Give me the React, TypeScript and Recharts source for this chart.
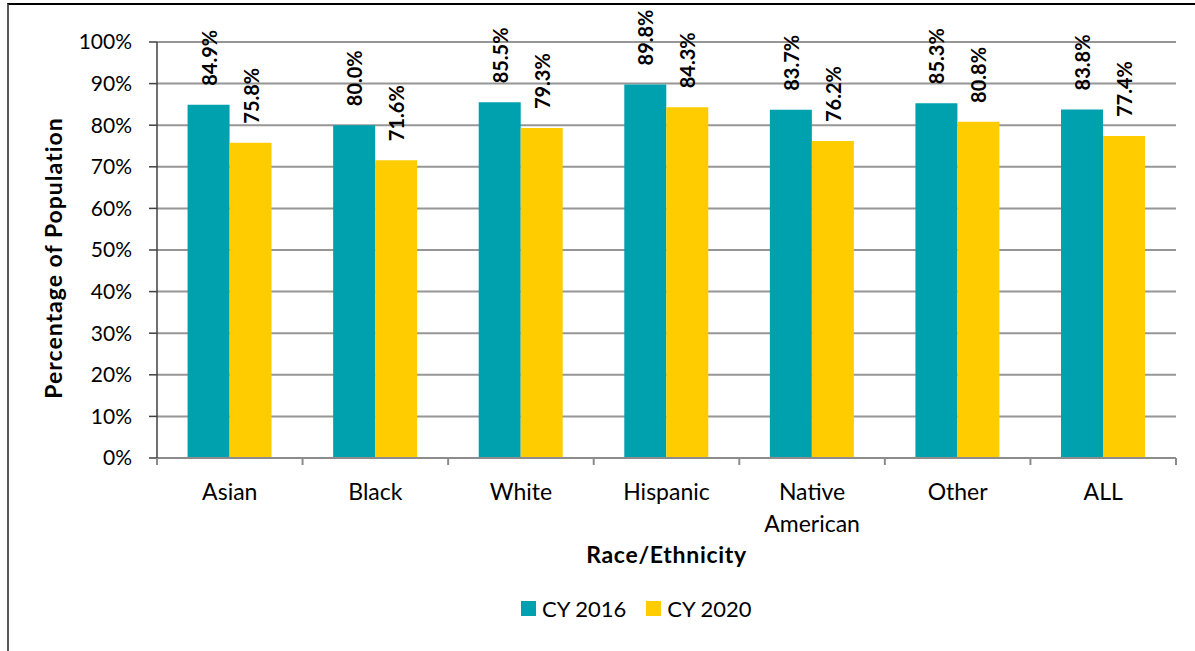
import {
  BarChart,
  Bar,
  XAxis,
  YAxis,
  CartesianGrid,
  Legend,
  LabelList,
  Label,
} from "recharts";

const categories = ["Asian", "Black", "White", "Hispanic", "Native American", "Other", "ALL"];
const cy2016 = [84.9, 80.0, 85.5, 89.8, 83.7, 85.3, 83.8];
const cy2020 = [75.8, 71.6, 79.3, 84.3, 76.2, 80.8, 77.4];
const yTicks = [0, 10, 20, 30, 40, 50, 60, 70, 80, 90, 100];
const seriesNames = ["CY 2016", "CY 2020"];
const seriesColors = ["#00A1AF", "#FFCC00"];

const data = categories.map((name, i) => ({
  name,
  a: cy2016[i],
  b: cy2020[i],
}));

const FONT = "Lato, 'Open Sans', sans-serif";

function renderValueLabel(props: any) {
  const { x, y, width, value } = props;
  const cx = Number(x) + Number(width) / 2;
  const cy = Number(y) - 19;
  return (
    <text
      x={cx}
      y={cy}
      transform={`rotate(-90, ${cx}, ${cy})`}
      textAnchor="start"
      dominantBaseline="central"
      fontFamily={FONT}
      fontWeight={700}
      fontSize={20}
      fill="#000"
    >
      {`${Number(value).toFixed(1)}%`}
    </text>
  );
}

function CategoryTick(props: any) {
  const { x, y, payload, index } = props;
  const half = payload && payload.offset ? payload.offset : 72.8;
  const lines = String(payload.value).length > 10 ? String(payload.value).split(" ") : [payload.value];
  return (
    <g>
      <line x1={x - half} y1={y} x2={x - half} y2={y + 7} stroke="#8c8c8c" strokeWidth={2} />
      {index === categories.length - 1 && (
        <line x1={x + half} y1={y} x2={x + half} y2={y + 7} stroke="#8c8c8c" strokeWidth={2} />
      )}
      {lines.map((l: string, i: number) => (
        <text
          key={i}
          x={x}
          y={y + 42 + i * 32}
          textAnchor="middle"
          fontFamily={FONT}
          fontSize={23}
          fill="#000"
        >
          {l}
        </text>
      ))}
    </g>
  );
}

function renderLegend() {
  return (
    <div style={{ display: "flex", alignItems: "center", fontFamily: FONT, fontSize: 22, color: "#000" }}>
      {seriesNames.map((n, i) => (
        <div key={n} style={{ display: "flex", alignItems: "center", marginRight: 20 }}>
          <span style={{ width: 15, height: 15, background: seriesColors[i], display: "inline-block", marginRight: 6 }} />
          <span>{n}</span>
        </div>
      ))}
    </div>
  );
}

export default function App() {
  return (
    <div
      style={{
        position: "absolute",
        left: 7,
        top: 3,
        width: 1188,
        height: 648,
        boxSizing: "border-box",
        borderTop: "2px solid #000",
        borderLeft: "2px solid #595959",
        background: "#fff",
      }}
    >
      <BarChart
        width={1186}
        height={646}
        data={data}
        margin={{ top: 37, right: 19, left: 0, bottom: 73 }}
        barCategoryGap="21%"
        barGap={0}
      >
        <CartesianGrid vertical={false} stroke="#969696" strokeWidth={2} />
        <XAxis
          dataKey="name"
          height={120}
          interval={0}
          stroke="#8c8c8c"
          strokeWidth={2}
          tickLine={false}
          tickSize={0}
          tickMargin={0}
          tick={<CategoryTick />}
        >
          <Label
            content={(p: any) => {
              const vb = p.viewBox || {};
              return (
                <text
                  x={vb.x + vb.width / 2}
                  y={vb.y + 105}
                  textAnchor="middle"
                  fontFamily={FONT}
                  fontWeight={700}
                  fontSize={23}
                  letterSpacing={0.7}
                  fill="#000"
                >
                  Race/Ethnicity
                </text>
              );
            }}
          />
        </XAxis>
        <YAxis
          width={148}
          domain={[0, 100]}
          ticks={yTicks}
          interval={0}
          stroke="#404040"
          strokeWidth={1.5}
          tickSize={8}
          tickMargin={17}
          tickFormatter={(v) => `${v}%`}
          tick={{ fontFamily: FONT, fontSize: 21, fill: "#000" }}
        >
          <Label
            content={(p: any) => {
              const vb = p.viewBox || {};
              const cx = 44;
              const cy = vb.y + vb.height / 2 + 8;
              return (
                <text
                  x={cx}
                  y={cy}
                  transform={`rotate(-90, ${cx}, ${cy})`}
                  textAnchor="middle"
                  dominantBaseline="central"
                  fontFamily={FONT}
                  fontWeight={700}
                  fontSize={23}
                  letterSpacing={1}
                  fill="#000"
                >
                  Percentage of Population
                </text>
              );
            }}
          />
        </YAxis>
        <Legend
          layout="horizontal"
          verticalAlign="middle"
          align="center"
          wrapperStyle={{ top: 590, left: 512, width: "auto" }}
          content={renderLegend}
        />
        <Bar dataKey="a" name={seriesNames[0]} fill={seriesColors[0]} isAnimationActive={false}>
          <LabelList dataKey="a" content={renderValueLabel} />
        </Bar>
        <Bar dataKey="b" name={seriesNames[1]} fill={seriesColors[1]} isAnimationActive={false}>
          <LabelList dataKey="b" content={renderValueLabel} />
        </Bar>
      </BarChart>
    </div>
  );
}
